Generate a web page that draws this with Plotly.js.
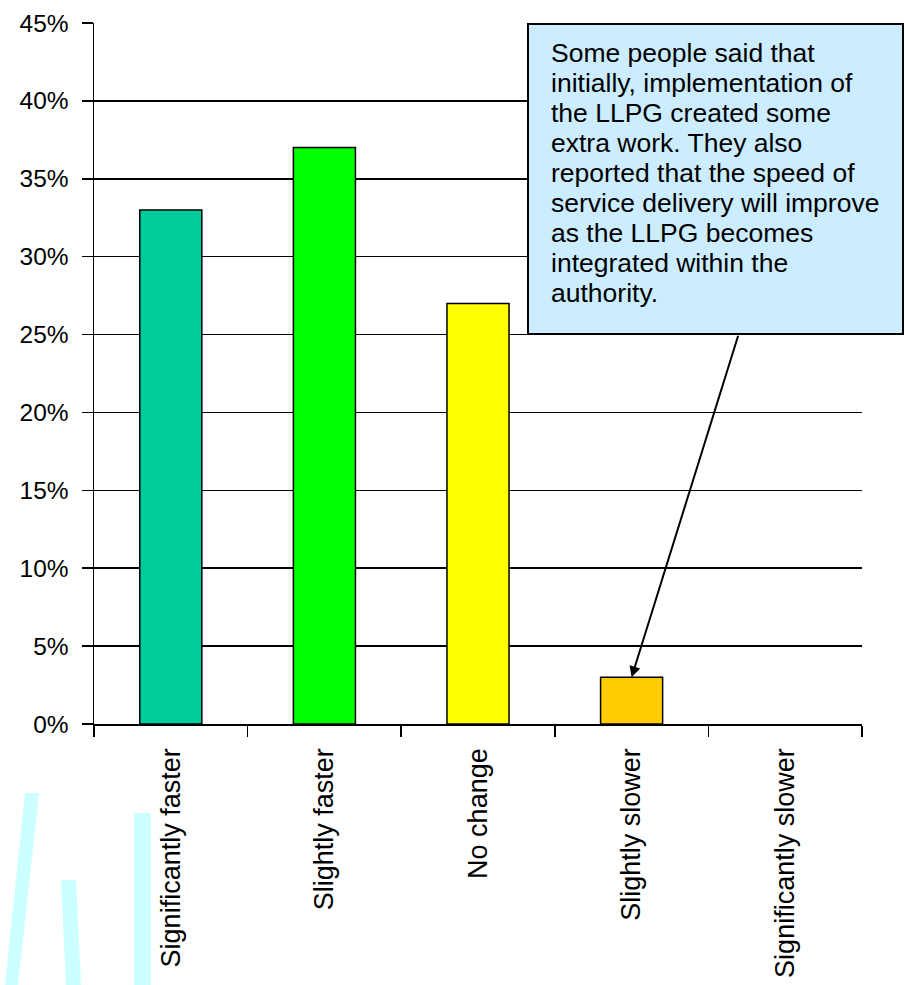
<!DOCTYPE html>
<html>
<head>
<meta charset="utf-8">
<script src="https://cdn.plot.ly/plotly-3.0.1.min.js"></script>
<style>
  html, body { margin: 0; padding: 0; background: #ffffff; }
  #chart { width: 905px; height: 985px; }
</style>
</head>
<body>
<div id="chart"></div>
<script>
// ---- data ----
const categories = ["Significantly faster", "Slightly faster", "No change", "Slightly slower", "Significantly slower"];
const shares = [0.33, 0.37, 0.27, 0.03, 0.0];
const barColors = ["#00CC99", "#00FF00", "#FFFF00", "#FFCC00", "#FFCC00"];
const yTickVals = [0, 0.05, 0.10, 0.15, 0.20, 0.25, 0.30, 0.35, 0.40, 0.45];
const yTickText = ["0%", "5%", "10%", "15%", "20%", "25%", "30%", "35%", "40%", "45%"];
const calloutLines = [
  "Some people said that",
  "initially, implementation of",
  "the LLPG created some",
  "extra work. They also",
  "reported that the speed of",
  "service delivery will improve",
  "as the LLPG becomes",
  "integrated within the",
  "authority."
];
const calloutTarget = "Slightly slower";

// ---- layout geometry ----
const W = 905, H = 985;
const M = { l: 94, r: 43, t: 23, b: 261 };
const PW = W - M.l - M.r, PH = H - M.t - M.b;
const pxX = x => (x - M.l) / PW;
const pxY = y => (H - M.b - y) / PH;
function poly(pts) {
  return "M" + pts.map(p => pxX(p[0]).toFixed(5) + "," + pxY(p[1]).toFixed(5)).join(" L") + " Z";
}

const trace = {
  type: "bar",
  x: categories,
  y: shares,
  marker: {
    color: barColors,
    line: { color: "#000000", width: shares.map(v => (v > 0 ? 1.5 : 0)) }
  },
  hoverinfo: "skip"
};

const shapes = [
  // decorative light cyan strokes (bottom left)
  { type: "path", xref: "paper", yref: "paper", path: poly([[25, 793], [39, 793], [18, 985], [5, 985]]),
    fillcolor: "#CCFFFF", line: { width: 0 }, layer: "below" },
  { type: "path", xref: "paper", yref: "paper", path: poly([[61, 880], [76, 880], [81, 985], [66, 985]]),
    fillcolor: "#CCFFFF", line: { width: 0 }, layer: "below" },
  { type: "path", xref: "paper", yref: "paper", path: poly([[134, 813], [151, 813], [151, 985], [134, 985]]),
    fillcolor: "#CCFFFF", line: { width: 0 }, layer: "below" },
  // callout box
  { type: "rect", xref: "paper", yref: "paper",
    x0: pxX(528), x1: pxX(903), y0: pxY(334), y1: pxY(24),
    fillcolor: "#CCECFF", line: { color: "#000000", width: 2 }, layer: "above" }
];

const annotations = calloutLines.map((t, i) => ({
  xref: "paper", yref: "paper",
  x: pxX(549), y: pxY(53 + i * 30),
  xanchor: "left", yanchor: "middle",
  text: t, showarrow: false,
  font: { family: "Liberation Sans, Arial, sans-serif", size: 26.5, color: "#000000" }
}));

annotations.push({
  x: calloutTarget, y: shares[categories.indexOf(calloutTarget)],
  xref: "x", yref: "y",
  text: "", showarrow: true,
  arrowhead: 2, arrowsize: 1.1, arrowwidth: 2, arrowcolor: "#000000",
  ax: 107, ay: -343, standoff: 0
});

const layout = {
  width: W, height: H,
  margin: M,
  paper_bgcolor: "#ffffff",
  plot_bgcolor: "#ffffff",
  showlegend: false,
  bargap: 0.596,
  xaxis: {
    type: "category",
    tickson: "boundaries",
    ticks: "outside", ticklen: 11, tickwidth: 1.5, tickcolor: "#000000",
    showline: true, linecolor: "#000000", linewidth: 1.5,
    showgrid: false, zeroline: false,
    tickangle: -90,
    ticklabelstandoff: 12,
    tickfont: { family: "Liberation Sans, Arial, sans-serif", size: 27, color: "#000000" }
  },
  yaxis: {
    range: [0, 0.45],
    tickvals: yTickVals, ticktext: yTickText,
    ticks: "outside", ticklen: 11, tickwidth: 1.5, tickcolor: "#000000",
    showline: true, linecolor: "#000000", linewidth: 1.5,
    showgrid: true, gridcolor: "#000000", gridwidth: 1.5,
    zeroline: false,
    ticklabelstandoff: 8,
    tickfont: { family: "Liberation Sans, Arial, sans-serif", size: 24.5, color: "#000000" }
  },
  shapes: shapes,
  annotations: annotations
};

Plotly.newPlot("chart", [trace], layout, { displayModeBar: false, staticPlot: true });
</script>
</body>
</html>
